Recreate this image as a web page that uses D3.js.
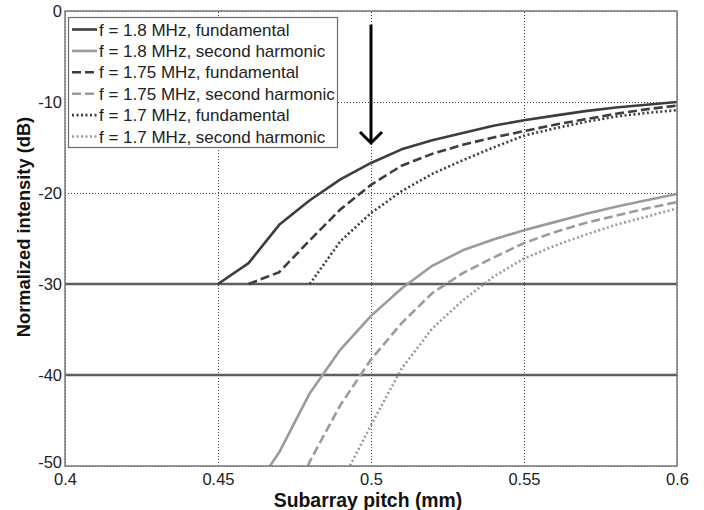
<!DOCTYPE html>
<html>
<head>
<meta charset="utf-8">
<script src="https://cdn.jsdelivr.net/npm/d3@7"></script>
<style>
  html, body { margin: 0; padding: 0; background: #fff; }
  svg { display: block; font-family: "Liberation Sans", Arial, sans-serif; }
</style>
</head>
<body>
<svg id="chart" width="704" height="510"></svg>
<script>
// ---------------- data ----------------
const xTicks = [0.4, 0.45, 0.5, 0.55, 0.6];
const yTicks = [0, -10, -20, -30, -40, -50];
const xTickLabels = ["0.4", "0.45", "0.5", "0.55", "0.6"];
const yTickLabels = ["0", "-10", "-20", "-30", "-40", "-50"];

const seriesNames = [
  "f = 1.8 MHz, fundamental",
  "f = 1.8 MHz, second harmonic",
  "f = 1.75 MHz, fundamental",
  "f = 1.75 MHz, second harmonic",
  "f = 1.7 MHz, fundamental",
  "f = 1.7 MHz, second harmonic"
];

const pitch18f = [0.45, 0.46, 0.47, 0.48, 0.49, 0.50, 0.51, 0.52, 0.53, 0.54, 0.55, 0.56, 0.57, 0.58, 0.59, 0.60];
const fund18   = [-30, -27.7, -23.5, -20.8, -18.5, -16.7, -15.2, -14.2, -13.4, -12.6, -12.0, -11.5, -11.0, -10.6, -10.3, -10.0];

const pitch175f = [0.46, 0.47, 0.48, 0.49, 0.50, 0.51, 0.52, 0.53, 0.54, 0.55, 0.56, 0.57, 0.58, 0.59, 0.60];
const fund175   = [-30, -28.7, -25.2, -21.8, -19.1, -17.0, -15.7, -14.7, -13.9, -13.2, -12.5, -11.9, -11.3, -10.8, -10.4];

const pitch17f = [0.48, 0.49, 0.50, 0.51, 0.52, 0.53, 0.54, 0.55, 0.56, 0.57, 0.58, 0.59, 0.60];
const fund17   = [-30, -25.3, -22.2, -19.8, -17.9, -16.4, -15.0, -13.7, -12.9, -12.2, -11.6, -11.2, -10.9];

const pitch18h = [0.46, 0.47, 0.48, 0.49, 0.50, 0.51, 0.52, 0.53, 0.54, 0.55, 0.56, 0.57, 0.58, 0.59, 0.60];
const harm18   = [-53.5, -48.5, -42.0, -37.2, -33.5, -30.5, -28.0, -26.3, -25.1, -24.1, -23.2, -22.3, -21.5, -20.8, -20.1];

const pitch175h = [0.47, 0.48, 0.49, 0.50, 0.51, 0.52, 0.53, 0.54, 0.55, 0.56, 0.57, 0.58, 0.59, 0.60];
const harm175   = [-58.0, -49.5, -43.3, -38.3, -34.3, -31.0, -28.8, -27.1, -25.5, -24.3, -23.3, -22.5, -21.7, -21.0];

const pitch17h = [0.48, 0.49, 0.50, 0.51, 0.52, 0.53, 0.54, 0.55, 0.56, 0.57, 0.58, 0.59, 0.60];
const harm17   = [-62.0, -52.0, -45.5, -39.3, -34.9, -31.8, -29.2, -27.2, -25.8, -24.6, -23.5, -22.6, -21.7];

const thresholdLevels = [-30, -40];
const arrowPitch = 0.5;
const arrowFrom = -1.5;
const arrowTo = -14.5;

const xTitle = "Subarray pitch (mm)";
const yTitle = "Normalized intensity (dB)";

// ---------------- layout ----------------
const svg = d3.select("#chart");
const pL = 65, pR = 677, pT = 11, pB = 466;

const x = d3.scaleLinear().domain([0.4, 0.6]).range([pL, pR]);
const y = d3.scaleLinear().domain([-50, 0]).range([pB, pT]);

const darkCol = "#3d3d3d", lightCol = "#9b9b9b";
const styles = [
  { color: darkCol,  dash: null },
  { color: lightCol, dash: null },
  { color: darkCol,  dash: "9,4" },
  { color: lightCol, dash: "9,4" },
  { color: darkCol,  dash: "2,2.5" },
  { color: lightCol, dash: "2,2.5" }
];
const series = [
  [pitch18f, fund18], [pitch18h, harm18],
  [pitch175f, fund175], [pitch175h, harm175],
  [pitch17f, fund17], [pitch17h, harm17]
];

svg.append("defs").append("clipPath").attr("id", "plotclip")
  .append("rect").attr("x", pL).attr("y", pT)
  .attr("width", pR - pL).attr("height", pB - pT);

// grid
const grid = svg.append("g");
const xAxisGrid = d3.axisBottom(x).tickValues(xTicks).tickSize(-(pB - pT)).tickFormat("");
grid.append("g").attr("transform", `translate(0,${pB})`).call(xAxisGrid)
  .call(g => g.select(".domain").remove())
  .call(g => g.selectAll("line").attr("stroke", "#444").attr("stroke-width", 1).attr("stroke-dasharray", "1,2"));
const yAxisGrid = d3.axisLeft(y).tickValues(yTicks).tickSize(-(pR - pL)).tickFormat("");
grid.append("g").attr("transform", `translate(${pL},0)`).call(yAxisGrid)
  .call(g => g.select(".domain").remove())
  .call(g => g.selectAll("line").attr("stroke", "#444").attr("stroke-width", 1).attr("stroke-dasharray", "1,2"));

// threshold lines
svg.append("g").selectAll("line").data(thresholdLevels).join("line")
  .attr("x1", x(0.4)).attr("x2", x(0.6))
  .attr("y1", d => y(d)).attr("y2", d => y(d))
  .attr("stroke", "#5e5e5e").attr("stroke-width", 2.6);

// curves
const line = d3.line().x(d => x(d[0])).y(d => y(d[1]));
const curves = svg.append("g").attr("clip-path", "url(#plotclip)");
series.forEach((s, i) => {
  const pts = s[0].map((p, k) => [p, s[1][k]]);
  curves.append("path").datum(pts)
    .attr("d", line)
    .attr("fill", "none")
    .attr("stroke", styles[i].color)
    .attr("stroke-width", 2.6)
    .attr("stroke-dasharray", styles[i].dash)
    .attr("stroke-linejoin", "round");
});

// border
svg.append("rect").attr("x", pL).attr("y", pT)
  .attr("width", pR - pL).attr("height", pB - pT)
  .attr("fill", "none").attr("stroke", "#7a7a7a").attr("stroke-width", 1.5);

// axes labels
const xAx = d3.axisBottom(x).tickValues(xTicks).tickSize(0).tickPadding(6)
  .tickFormat((d, i) => xTickLabels[i]);
svg.append("g").attr("transform", `translate(0,${pB + 1})`).call(xAx)
  .call(g => g.select(".domain").remove())
  .call(g => g.selectAll("text").attr("font-size", 16.5).attr("fill", "#222")
    .attr("font-family", "Liberation Sans, Arial, sans-serif"));
const yAx = d3.axisLeft(y).tickValues(yTicks).tickSize(0).tickPadding(3)
  .tickFormat((d, i) => yTickLabels[i]);
svg.append("g").attr("transform", `translate(${pL},0)`).call(yAx)
  .call(g => g.select(".domain").remove())
  .call(g => g.selectAll("text").attr("font-size", 16.5).attr("fill", "#222")
    .attr("font-family", "Liberation Sans, Arial, sans-serif")
    .attr("dy", (d, i) => d === -50 ? "0.1em" : "0.32em"));

svg.append("text").attr("x", 368).attr("y", 507).attr("text-anchor", "middle")
  .attr("font-size", 19.4).attr("font-weight", "bold").attr("fill", "#111").text(xTitle);
svg.append("text").attr("transform", "translate(30,227) rotate(-90)").attr("text-anchor", "middle")
  .attr("font-size", 18.3).attr("font-weight", "bold").attr("fill", "#111").text(yTitle);

// legend
const lg = svg.append("g");
lg.append("rect").attr("x", 68.5).attr("y", 17.5).attr("width", 269).attr("height", 130)
  .attr("fill", "#fff").attr("stroke", "#6a6a6a").attr("stroke-width", 1.2);
seriesNames.forEach((name, i) => {
  const yy = 29.5 + i * 21.4;
  lg.append("line").attr("x1", 72).attr("x2", 97).attr("y1", yy).attr("y2", yy)
    .attr("stroke", styles[i].color).attr("stroke-width", 2.6)
    .attr("stroke-dasharray", styles[i].dash);
  lg.append("text").attr("x", 99).attr("y", yy + 6).attr("font-size", 17)
    .attr("fill", "#222").text(name);
});

// arrow
const ax = x(arrowPitch), ay0 = y(arrowFrom), ay1 = y(arrowTo);
svg.append("line").attr("x1", ax).attr("x2", ax).attr("y1", ay0).attr("y2", ay1 - 1)
  .attr("stroke", "#000").attr("stroke-width", 3);
svg.append("path").attr("d", `M${ax - 11},${ay1 - 11} L${ax},${ay1} L${ax + 11},${ay1 - 11}`)
  .attr("fill", "none").attr("stroke", "#000").attr("stroke-width", 3);
</script>
</body>
</html>
